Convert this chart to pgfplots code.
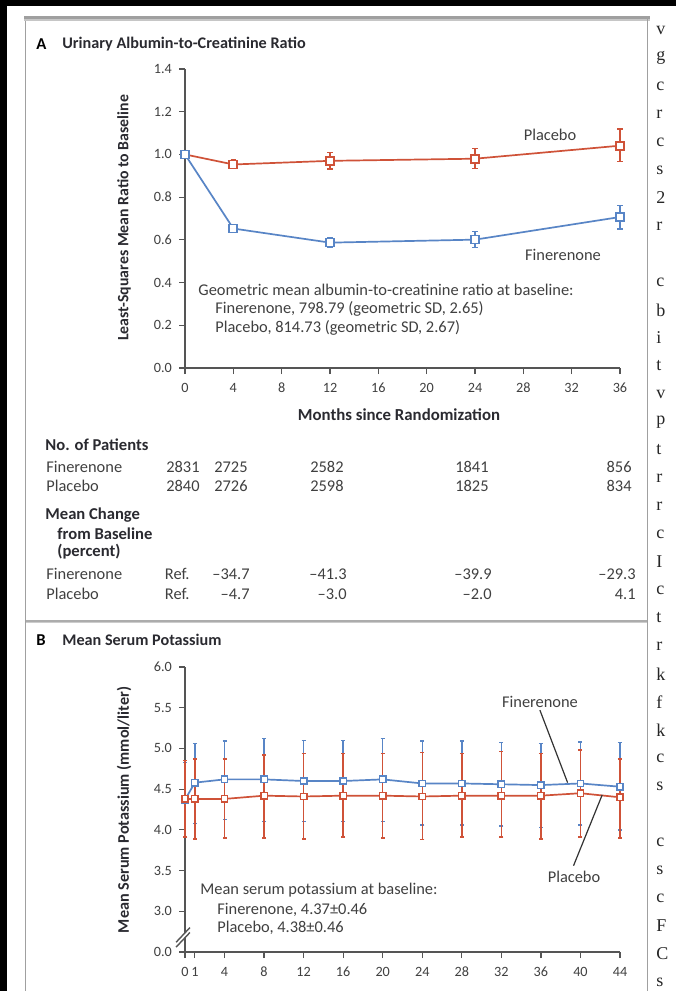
\documentclass[border=0pt]{standalone}
\usepackage{pgfplots}
\pgfplotsset{compat=1.18}
\usepackage{pgfplotstable}
\usepackage{fontspec}
\setmainfont{Carlito}
\newfontfamily\serif{Liberation Serif}
\definecolor{cred}{HTML}{CF5238}
\definecolor{cblue}{HTML}{5885C6}
\definecolor{ctxt}{HTML}{404040}
\definecolor{cbold}{HTML}{2A2A30}
\definecolor{caxis}{HTML}{555555}
\definecolor{cframe}{HTML}{A0A0A0}
\newcommand{\fs}[1]{\fontsize{#1}{#1}\selectfont}

\pgfplotstableread{
x y em ep
0 1.000 0 0
4 0.953 0.02 0.02
12 0.970 0.039 0.039
24 0.980 0.047 0.047
36 1.041 0.073 0.078
}\Aplac
\pgfplotstableread{
x y em ep
0 1.000 0 0
4 0.653 0.012 0.012
12 0.587 0.023 0.023
24 0.601 0.037 0.037
36 0.707 0.055 0.055
}\Afin
\pgfplotstableread{
x y em ep
0 4.37 0.46 0.46
1 4.58 0.50 0.48
4 4.62 0.49 0.47
8 4.62 0.52 0.50
12 4.60 0.50 0.50
16 4.60 0.50 0.50
20 4.62 0.52 0.50
24 4.57 0.51 0.52
28 4.57 0.51 0.52
32 4.56 0.51 0.51
36 4.55 0.52 0.51
40 4.57 0.51 0.51
44 4.53 0.53 0.54
}\Bfin
\pgfplotstableread{
x y em ep
0 4.38 0.47 0.47
1 4.38 0.49 0.49
4 4.38 0.48 0.49
8 4.42 0.52 0.50
12 4.41 0.52 0.53
16 4.42 0.51 0.52
20 4.42 0.52 0.52
24 4.41 0.53 0.54
28 4.42 0.51 0.52
32 4.42 0.51 0.54
36 4.42 0.53 0.52
40 4.45 0.54 0.53
44 4.40 0.50 0.47
}\Bplac

\pgfplotsset{
  panel/.style={
    scale only axis, width=217.5pt,
    axis lines=left, axis line style={caxis, line width=1pt, -},
    tick align=outside, major tick length=3pt,
    tick style={caxis, line width=0.6pt},
    ticklabel style={font=\fs{7.1}, text=ctxt},
    xticklabel style={yshift=-1pt},
    clip=false,
  },
}

\begin{document}
\begin{tikzpicture}
\path[clip] (0,0) rectangle (338pt,-495.5pt);
\begin{scope}[x=0.5pt,y=-0.5pt]
  \fill[white] (0,0) rectangle (676,991);
  \fill[black] (0,0) rectangle (676,6);
  \fill[black] (0,0) rectangle (7,991);
  % frame
  \fill[gray!75] (24,16) rectangle (650,18.5);
  \fill[gray!45] (24,18.5) rectangle (650,21);
  \draw[cframe, line width=0.8pt] (25.5,21) -- (25.5,991);
  \draw[cframe, line width=0.8pt] (647.5,16) -- (647.5,991);
  \fill[gray!65] (25.5,619.5) rectangle (647,621.5);
  \fill[gray!40] (25.5,621.5) rectangle (647,623);
  % panel A text
  \node[anchor=west, inner sep=0, font=\fs{8.3}\bfseries, text=black] at (36,44) {A};
  \node[anchor=west, inner sep=0, font=\fs{8.1}\bfseries, text=cbold] at (62,44) {Urinary Albumin-to-Creatinine Ratio};
  \node[rotate=90, inner sep=0, font=\fs{7.9}\bfseries, text=cbold] at (124,218) {Least-Squares Mean Ratio to Baseline};
  \node[inner sep=0, font=\fs{8.4}\bfseries, text=cbold] at (399,415) {Months since Randomization};
  \node[inner sep=0, font=\fs{8.2}, text=ctxt] at (550,135) {Placebo};
  \node[inner sep=0, font=\fs{8.2}, text=ctxt] at (563,255) {Finerenone};
  \node[anchor=west, inner sep=0, font=\fs{8.2}, text=ctxt] at (198,290) {Geometric mean albumin-to-creatinine ratio at baseline:};
  \node[anchor=west, inner sep=0, font=\fs{8.2}, text=ctxt] at (215,309) {Finerenone, 798.79 (geometric SD, 2.65)};
  \node[anchor=west, inner sep=0, font=\fs{8.2}, text=ctxt] at (215,328) {Placebo, 814.73 (geometric SD, 2.67)};
  % table
  \begin{scope}[every node/.style={inner sep=0, font=\fs{8.2}, text=ctxt}]
  \node[anchor=west, font=\fs{8.3}\bfseries, text=cbold] at (45,445) {No. of Patients};
  \node[anchor=west] at (46,467) {Finerenone};
  \node[anchor=west] at (46,486) {Placebo};
  \node[anchor=east] at (200,467) {2831};
  \node[anchor=east] at (248,467) {2725};
  \node[anchor=east] at (344,467) {2582};
  \node[anchor=east] at (489,467) {1841};
  \node[anchor=east] at (632,467) {856};
  \node[anchor=east] at (200,486) {2840};
  \node[anchor=east] at (248,486) {2726};
  \node[anchor=east] at (344,486) {2598};
  \node[anchor=east] at (489,486) {1825};
  \node[anchor=east] at (632,486) {834};
  \node[anchor=west, font=\fs{8.3}\bfseries, text=cbold] at (45,515) {Mean Change};
  \node[anchor=west, font=\fs{8.3}\bfseries, text=cbold] at (57,534) {from Baseline};
  \node[anchor=west, font=\fs{8.3}\bfseries, text=cbold] at (57,552) {(percent)};
  \node[anchor=west] at (46,574) {Finerenone};
  \node[anchor=west] at (46,594) {Placebo};
  \node[anchor=east] at (190,574) {Ref.};
  \node[anchor=east] at (250,574) {–34.7};
  \node[anchor=east] at (347,574) {–41.3};
  \node[anchor=east] at (492,574) {–39.9};
  \node[anchor=east] at (636,574) {–29.3};
  \node[anchor=east] at (190,594) {Ref.};
  \node[anchor=east] at (250,594) {–4.7};
  \node[anchor=east] at (347,594) {–3.0};
  \node[anchor=east] at (492,594) {–2.0};
  \node[anchor=east] at (636,594) {4.1};
  \end{scope}
  % panel B text
  \node[anchor=west, inner sep=0, font=\fs{8.3}\bfseries, text=black] at (36,640) {B};
  \node[anchor=west, inner sep=0, font=\fs{8.1}\bfseries, text=cbold] at (62,640) {Mean Serum Potassium};
  \node[rotate=90, inner sep=0, font=\fs{8.1}\bfseries, text=cbold] at (124,810) {Mean Serum Potassium (mmol/liter)};
  \node[inner sep=0, font=\fs{8.2}, text=ctxt] at (540,702) {Finerenone};
  \node[inner sep=0, font=\fs{8.2}, text=ctxt] at (574,877) {Placebo};
  \node[anchor=west, inner sep=0, font=\fs{8.2}, text=ctxt] at (200,890) {Mean serum potassium at baseline:};
  \node[anchor=west, inner sep=0, font=\fs{8.2}, text=ctxt] at (217,910) {Finerenone, 4.37±0.46};
  \node[anchor=west, inner sep=0, font=\fs{8.2}, text=ctxt] at (217,928) {Placebo, 4.38±0.46};
  % right column of body text
  \begin{scope}[every node/.style={anchor=west, inner sep=0, font=\serif\fs{9}, text=black!85}]
  \foreach \l [count=\i from 0] in {v,g,c,r,c,s,2,r}
    \node at (656,30+28*\i) {\l};
  \foreach \l [count=\i from 9] in {c,b,i,t,v,p,t,r,r,c,I,c,t,r,k,f,k,c,s}
    \node at (656,30+28*\i) {\l};
  \foreach \l [count=\i from 29] in {c,s,c,F,C,s}
    \node at (656,30+28*\i) {\l};
  \end{scope}
\end{scope}

% ---------- Panel A ----------
\begin{axis}[panel,
  at={(92.5pt,-184pt)}, anchor=south west, height=149.5pt,
  xmin=0, xmax=36, ymin=0, ymax=1.4,
  xtick={0,4,...,36},
  ytick={0,0.2,0.4,0.6,0.8,1.0,1.2,1.4},
  yticklabels={0.0,0.2,0.4,0.6,0.8,1.0,1.2,1.4},
  xticklabels={0,4,8,12,16,20,24,28,32,36},
]
\addplot[cred, line width=0.85pt, mark=square*, mark size=2pt,
  mark options={fill=white, solid, line width=0.85pt},
  error bars/.cd, y dir=both, y explicit,
  error bar style={line width=0.75pt, cred},
  error mark options={rotate=90, mark size=1.3pt, line width=0.75pt, cred}]
  table[x=x, y=y, y error plus=ep, y error minus=em] {\Aplac};
\addplot[cblue, line width=0.85pt, mark=square*, mark size=2pt,
  mark options={fill=white, solid, line width=0.85pt},
  error bars/.cd, y dir=both, y explicit,
  error bar style={line width=0.75pt, cblue},
  error mark options={rotate=90, mark size=1.3pt, line width=0.75pt, cblue}]
  table[x=x, y=y, y error plus=ep, y error minus=em] {\Afin};
\end{axis}

% ---------- Panel B ----------
\begin{axis}[panel,
  at={(92.5pt,-476pt)}, anchor=south west, height=142.5pt,
  xmin=0, xmax=44, ymin=2.5, ymax=6,
  xtick={0,1,4,8,12,16,20,24,28,32,36,40,44},
  xticklabels={0,1,4,8,12,16,20,24,28,32,36,40,44},
  ytick={2.5,3,3.5,4,4.5,5,5.5,6},
  yticklabels={0.0,3.0,3.5,4.0,4.5,5.0,5.5,6.0},
]
\addplot[cblue, line width=0.85pt, mark=square*, mark size=1.6pt,
  mark options={fill=white, solid, line width=0.75pt},
  error bars/.cd, y dir=both, y explicit,
  error bar style={line width=0.75pt, cblue},
  error mark options={rotate=90, mark size=1pt, line width=0.75pt, cblue}]
  table[x=x, y=y, y error plus=ep, y error minus=em] {\Bfin};
\addplot[cred, line width=0.85pt, mark=square*, mark size=1.6pt,
  mark options={fill=white, solid, line width=0.75pt},
  error bars/.cd, y dir=both, y explicit,
  error bar style={line width=0.75pt, cred},
  error mark options={rotate=90, mark size=1pt, line width=0.75pt, cred}]
  table[x=x, y=y, y error plus=ep, y error minus=em] {\Bplac};
\draw[black!80, line width=0.6pt] (axis cs:35.9,5.47) -- (axis cs:38.7,4.58);
\draw[black!80, line width=0.6pt] (axis cs:39.3,3.56) -- (axis cs:42.2,4.43);
% axis break
\fill[white] (axis cs:-0.9,2.62) -- (axis cs:0.5,2.80) -- (axis cs:0.5,2.74) -- (axis cs:-0.9,2.56) -- cycle;
\draw[caxis, line width=0.7pt] (axis cs:-0.9,2.62) -- (axis cs:0.5,2.80);
\draw[caxis, line width=0.7pt] (axis cs:-0.9,2.56) -- (axis cs:0.5,2.74);
\end{axis}
\end{tikzpicture}
\end{document}
